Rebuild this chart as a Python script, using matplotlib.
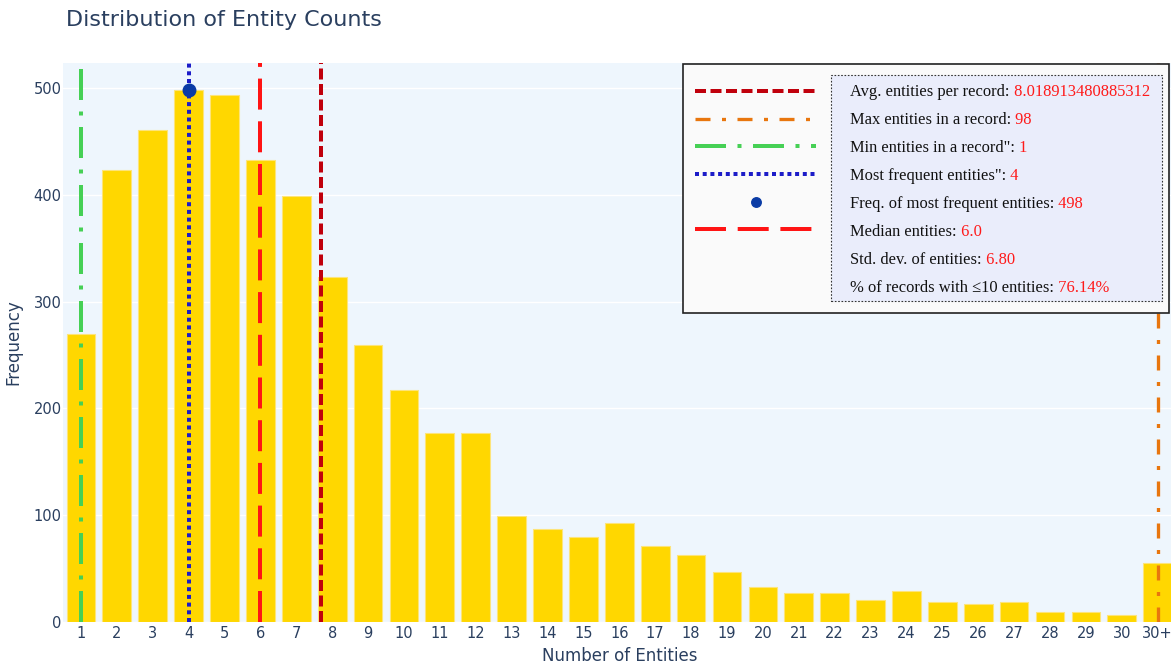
import numpy as np
import matplotlib.pyplot as plt
from matplotlib.lines import Line2D
from matplotlib.patches import Rectangle
from matplotlib.text import Annotation

W, H, DPI = 1171, 666, 100

categories = [str(i) for i in range(1, 31)] + ["30+"]
counts = [270, 423, 461, 498, 493, 433, 399, 323, 259, 217, 177, 177, 99, 87, 80,
          93, 71, 63, 47, 33, 27, 27, 21, 29, 19, 17, 19, 9, 9, 7, 55]

# stats shown in the legend box
stat_labels = ["Avg. entities per record:", "Max entities in a record:",
               'Min entities in a record":', 'Most frequent entities":',
               "Freq. of most frequent entities:", "Median entities:",
               "Std. dev. of entities:", "% of records with \u226410 entities:"]
stat_values = ["8.018913480885312", "98", "1", "4", "498", "6.0", "6.80", "76.14%"]

# where each vertical line sits on the category axis
avg_at = 7.69
max_at = "30+"
min_at = "1"
mode_at = "4"
median_at = "6"
mode_freq = 498

FONT_COL = "#2a3f5f"


def dash(lw_px, *seg_px):
    # dash pattern given in pixels -> matplotlib units (multiples of lw)
    return (0, [s / lw_px for s in seg_px])


def pt(px):
    return px * 72.0 / DPI


styles = {
    "avg": dict(color="#C0000C", lw=pt(4), ls=dash(4, 11, 4.5)),
    "max": dict(color="#E8760E", lw=pt(3.3), ls=dash(3.3, 15, 11.5, 4, 11.5)),
    "min": dict(color="#46D055", lw=pt(4), ls=dash(4, 31, 11.5, 4, 11.5)),
    "mode": dict(color="#1C1CC8", lw=pt(4), ls=dash(4, 4, 3.7)),
    "median": dict(color="#FF1414", lw=pt(4), ls=dash(4, 31, 11.7)),
}
marker_col = "#0A3BA5"


def fxy(x, y):
    return x / W, 1 - y / H


def main():
    fig = plt.figure(figsize=(W / DPI, H / DPI), dpi=DPI)
    ax = fig.add_axes([63 / W, 44 / H, (1175.6 - 63) / W, (622 - 63) / H])
    ax.set_facecolor("#EEF6FD")

    x = np.arange(len(categories))
    ax.bar(x, counts, width=0.8, color="#FFD700", edgecolor="#FDE47A", linewidth=0.8, zorder=2)

    idx = {c: i for i, c in enumerate(categories)}
    positions = {
        "min": idx[min_at],
        "mode": idx[mode_at],
        "median": idx[median_at],
        "avg": idx["1"] + (avg_at - 1),
        "max": idx[max_at],
    }
    for key in ["min", "mode", "median", "avg", "max"]:
        st = styles[key]
        ax.axvline(positions[key], color=st["color"], lw=st["lw"], linestyle=st["ls"],
                   dash_capstyle="butt", zorder=3)
    ax.plot(idx[mode_at], mode_freq, "o", color=marker_col, ms=pt(12.5), zorder=4)

    ax.set_xlim(-0.5, len(categories) - 0.5)
    ax.set_ylim(0, 523.4)
    ax.set_xticks(x)
    ax.set_xticklabels(categories)
    ax.set_yticks([0, 100, 200, 300, 400, 500])
    ax.grid(axis="y", color="white", lw=1.0, zorder=1)
    ax.set_axisbelow(True)
    for s in ax.spines.values():
        s.set_visible(False)
    ax.tick_params(length=0, labelsize=10.5, labelcolor=FONT_COL, pad=3)
    ax.tick_params(axis="y", pad=1)
    ax.set_xlabel("Number of Entities", fontsize=12, color=FONT_COL, labelpad=4)
    ax.set_ylabel("Frequency", fontsize=12, color=FONT_COL, labelpad=8)

    fig.text(*fxy(66, 20), "Distribution of Entity Counts", fontsize=16, color=FONT_COL,
             ha="left", va="center")

    # --- legend box ---
    x0, y0 = fxy(683, 313)
    x1, y1 = fxy(1169, 64)
    fig.add_artist(Rectangle((x0, y0), x1 - x0, y1 - y0, transform=fig.transFigure,
                             facecolor="#FAFAFA", edgecolor="#222222", lw=1.2, zorder=5))
    x0, y0 = fxy(831, 301)
    x1, y1 = fxy(1162, 75)
    fig.add_artist(Rectangle((x0, y0), x1 - x0, y1 - y0, transform=fig.transFigure,
                             facecolor="#EAEDFB", edgecolor="#333333", lw=0.8,
                             linestyle=(0, (1.5, 1.5)), zorder=6))

    samples = [("avg", 90.5), ("max", 119), ("min", 146), ("mode", 174), ("median", 229.5)]
    for key, yy in samples:
        st = styles[key]
        xa, ya = fxy(695, yy)
        xb, _ = fxy(816, yy)
        fig.add_artist(Line2D([xa, xb], [ya, ya], transform=fig.transFigure, color=st["color"],
                              lw=st["lw"], linestyle=st["ls"], dash_capstyle="butt", zorder=7))
    xm, ym = fxy(756, 202)
    fig.add_artist(Line2D([xm], [ym], transform=fig.transFigure, marker="o", color=marker_col,
                          ms=pt(9.5), linestyle="none", zorder=7))

    serif = ["Liberation Serif", "DejaVu Serif"]
    ys = [91.5, 119.5, 147.5, 175.5, 203.5, 231.5, 259.5, 287.5]
    for lab, val, yy in zip(stat_labels, stat_values, ys):
        t = fig.text(*fxy(850, yy), lab, family=serif, fontsize=11.9, color="#111111",
                     ha="left", va="center", zorder=8)
        a = Annotation(" " + val, xy=(1, 0), xycoords=t, ha="left", va="bottom",
                       family=serif, fontsize=11.9, color="#FF1A1A", zorder=8)
        fig.add_artist(a)

    fig.savefig("out.png", dpi=DPI)
    plt.close(fig)


if __name__ == "__main__":
    main()
